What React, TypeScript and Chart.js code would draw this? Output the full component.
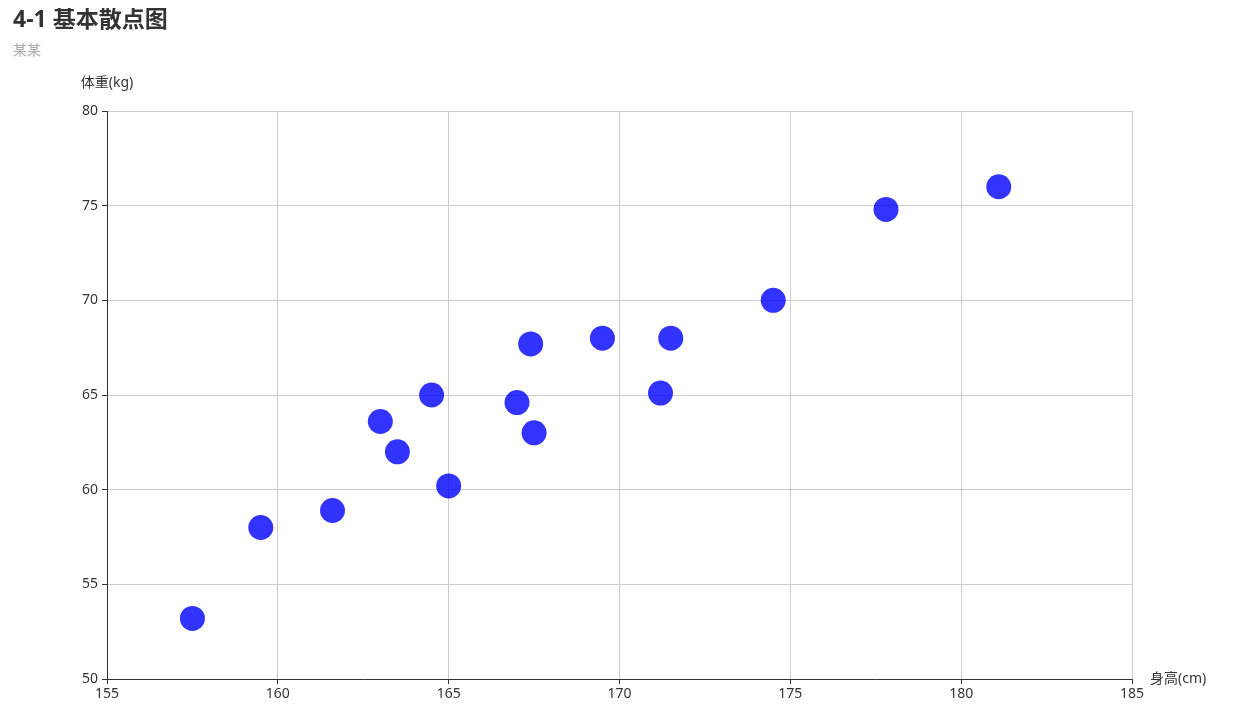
import React, { useEffect, useRef } from "react";
import { Chart, registerables } from "chart.js";

Chart.register(...registerables);

const heights = [157.5, 159.5, 161.6, 163.0, 163.5, 164.5, 165.0, 167.0, 167.4, 167.5, 169.5, 171.2, 171.5, 174.5, 177.8, 181.1];
const weights = [53.2, 58.0, 58.9, 63.6, 62.0, 65.0, 60.2, 64.6, 67.7, 63.0, 68.0, 65.1, 68.0, 70.0, 74.8, 76.0];
const titleText = "4-1 基本散点图";
const subtitleText = "某某";
const xName = "身高(cm)";
const yName = "体重(kg)";

const FONT = '"Noto Sans", "Noto Sans CJK SC", sans-serif';

const labelsPlugin = {
  id: "labelsPlugin",
  afterDraw(chart: any) {
    const ctx = chart.ctx;
    const area = chart.chartArea;
    ctx.save();
    ctx.textBaseline = "middle";
    ctx.fillStyle = "#333";
    ctx.font = `bold 23px ${FONT}`;
    ctx.textAlign = "left";
    ctx.fillText(titleText, 5, 12);
    ctx.fillStyle = "#aaa";
    ctx.font = `14px ${FONT}`;
    ctx.fillText(subtitleText, 5, 43);
    ctx.fillStyle = "#333";
    ctx.font = `14px ${FONT}`;
    ctx.textAlign = "center";
    ctx.fillText(yName, area.left, 75);
    ctx.textAlign = "left";
    ctx.fillText(xName, area.right + 18, area.bottom);
    ctx.restore();
  },
};

export default function App() {
  const ref = useRef<HTMLCanvasElement>(null);
  useEffect(() => {
    if (!ref.current) return;
    const chart = new Chart(ref.current, {
      type: "scatter",
      data: {
        datasets: [
          {
            data: heights.map((h, i) => ({ x: h, y: weights[i] })),
            backgroundColor: "rgba(0,0,255,0.8)",
            borderWidth: 0,
            pointRadius: 12.5,
            pointHoverRadius: 12.5,
          },
        ],
      },
      options: {
        animation: false,
        responsive: false,
        layout: { padding: { left: 0, right: 101, top: 103, bottom: 0 } },
        plugins: { legend: { display: false }, tooltip: { enabled: false } },
        scales: {
          x: {
            type: "linear",
            min: 155,
            max: 185,
            afterFit: (s: any) => {
              s.height = 30;
            },
            ticks: { stepSize: 5, color: "#333", font: { size: 14, family: FONT }, padding: 2, maxRotation: 0 },
            grid: { color: "#ccc", tickColor: "#333", tickLength: 5 },
            border: { color: "#333", width: 1 },
          },
          y: {
            type: "linear",
            min: 50,
            max: 80,
            afterFit: (s: any) => {
              s.width = 99;
            },
            ticks: { stepSize: 5, color: "#333", font: { size: 14, family: FONT }, padding: 4 },
            grid: { color: "#ccc", tickColor: "#333", tickLength: 5 },
            border: { color: "#333", width: 1 },
          },
        },
      },
      plugins: [labelsPlugin],
    });
    return () => chart.destroy();
  }, []);
  return <canvas ref={ref} width={1225} height={701} style={{ display: "block" }} />;
}
